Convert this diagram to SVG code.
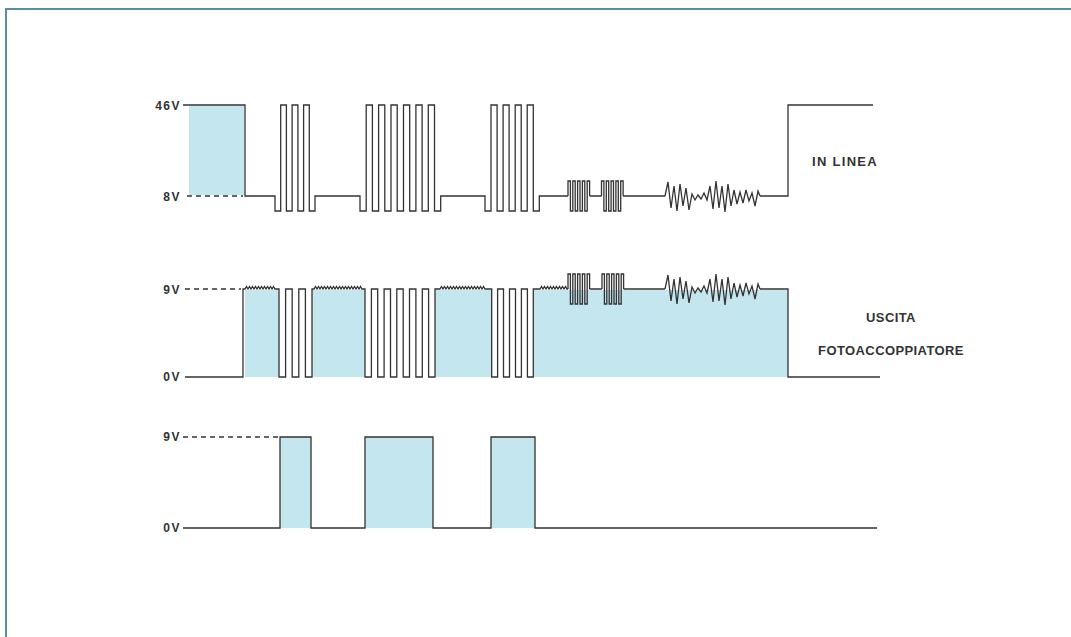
<svg xmlns="http://www.w3.org/2000/svg" xmlns:xlink="http://www.w3.org/1999/xlink" width="1071" height="637" viewBox="0 0 1071 637">
<style>
.w{fill:none;stroke:#333;stroke-width:1.3;stroke-linejoin:miter}
.d{fill:none;stroke:#333;stroke-width:1.3;stroke-dasharray:5 4}
.f{fill:#c4e6ef;stroke:none}
.lbl{font-family:"Liberation Sans",Arial,sans-serif;font-weight:bold;font-size:12px;fill:#333;letter-spacing:1.5px}
.ax{text-anchor:end}
.rt{text-anchor:middle;font-size:13px;letter-spacing:0.4px}
.rt2{text-anchor:middle;font-size:13px;letter-spacing:1.3px}
</style>
<defs>
<path id="burst" d="M0,0 V-15 H2.4 V15 H4.8 V-15 H7.2 V15 H9.6 V-15 H12 V15 H14.4 V-15 H16.8 V15 H19.2 V-15 H21.6 V0"/>
<path id="noise" d="M0,0 L3,-14 L6,12 L9,-10 L12,15 L15,-12 L18,10 L21,-8 L24,14 L27,-2 L30,4 L33,-1 L36,3 L39,-3 L42,4 L45,-10 L48,13 L51,-15 L54,12 L57,-10 L60,16 L63,-12 L66,10 L69,-6 L72,8 L75,-4 L78,7 L81,-6 L84,5 L87,-3 L90,10 L93,-5 L95,0"/>
</defs>
<rect width="1071" height="637" fill="#fff"/>
<path d="M6,637 V9 H1071" fill="none" stroke="#5d8c9c" stroke-width="2"/>

<g id="trace-in-linea">
<rect class="f" x="189" y="106" width="55" height="89"/>
<line class="d" x1="187" y1="196" x2="243" y2="196"/>
<path class="w" d="M183,105 H245 V196 H275 V211 H280.7 V105 H286.4 V211 H292.1 V105 H297.9 V211 H303.6 V105 H309.3 V211 H315 V196 H360 V211 H366.2 V105 H372.4 V211 H378.6 V105 H384.8 V211 H391 V105 H397.2 V211 H403.5 V105 H409.7 V211 H415.9 V105 H422.1 V211 H428.3 V105 H434.5 V211 H440.7 V196 H485 V211 H491 V105 H497.1 V211 H503.1 V105 H509.1 V211 H515.2 V105 H521.2 V211 H527.2 V105 H533.3 V211 H539.3 V196 H568 M589.6,196 H601.5 M623.1,196 H665 M760,196 H788 V105 H873"/>
<use class="w" xlink:href="#burst" href="#burst" transform="translate(568,196)"/>
<use class="w" xlink:href="#burst" href="#burst" transform="translate(601.5,196)"/>
<use class="w" xlink:href="#noise" href="#noise" transform="translate(665,196)"/>
<text class="lbl ax" x="181" y="109.5">46V</text>
<text class="lbl ax" x="181" y="200.5">8V</text>
<text class="lbl rt2" x="845" y="166">IN LINEA</text>
</g>

<g id="trace-uscita">
<rect class="f" x="245" y="290" width="34" height="87"/>
<rect class="f" x="312" y="290" width="53" height="87"/>
<rect class="f" x="435" y="290" width="56.7" height="87"/>
<rect class="f" x="533.3" y="290" width="254.7" height="87"/>
<line class="d" x1="185" y1="289" x2="241" y2="289"/>
<path class="w" d="M185,377 H243 V289 H245 l1.5,-2.5 l1.5,2.5 l1.5,-2.5 l1.5,2.5 l1.5,-2.5 l1.5,2.5 l1.5,-2.5 l1.5,2.5 l1.5,-2.5 l1.5,2.5 l1.5,-2.5 l1.5,2.5 l1.5,-2.5 l1.5,2.5 l1.5,-2.5 l1.5,2.5 l1.5,-2.5 l1.5,2.5 l1.5,-2.5 l1.5,2.5 H279 V377 H285.6 V289 H292.2 V377 H298.8 V289 H305.4 V377 H312 V289 H314 l1.5,-2.5 l1.5,2.5 l1.5,-2.5 l1.5,2.5 l1.5,-2.5 l1.5,2.5 l1.5,-2.5 l1.5,2.5 l1.5,-2.5 l1.5,2.5 l1.5,-2.5 l1.5,2.5 l1.5,-2.5 l1.5,2.5 l1.5,-2.5 l1.5,2.5 l1.5,-2.5 l1.5,2.5 l1.5,-2.5 l1.5,2.5 l1.5,-2.5 l1.5,2.5 l1.5,-2.5 l1.5,2.5 l1.5,-2.5 l1.5,2.5 l1.5,-2.5 l1.5,2.5 l1.5,-2.5 l1.5,2.5 l1.5,-2.5 l1.5,2.5 H365 V377 H371.4 V289 H377.7 V377 H384.1 V289 H390.5 V377 H396.8 V289 H403.2 V377 H409.5 V289 H415.9 V377 H422.3 V289 H428.6 V377 H435 V289 H440 l1.5,-2.5 l1.5,2.5 l1.5,-2.5 l1.5,2.5 l1.5,-2.5 l1.5,2.5 l1.5,-2.5 l1.5,2.5 l1.5,-2.5 l1.5,2.5 l1.5,-2.5 l1.5,2.5 l1.5,-2.5 l1.5,2.5 l1.5,-2.5 l1.5,2.5 l1.5,-2.5 l1.5,2.5 l1.5,-2.5 l1.5,2.5 l1.5,-2.5 l1.5,2.5 l1.5,-2.5 l1.5,2.5 l1.5,-2.5 l1.5,2.5 l1.5,-2.5 l1.5,2.5 l1.5,-2.5 l1.5,2.5 H491.7 V377 H497.6 V289 H503.5 V377 H509.5 V289 H515.5 V377 H521.4 V289 H527.4 V377 H533.3 V289 H540 l1.5,-2.5 l1.5,2.5 l1.5,-2.5 l1.5,2.5 l1.5,-2.5 l1.5,2.5 l1.5,-2.5 l1.5,2.5 l1.5,-2.5 l1.5,2.5 l1.5,-2.5 l1.5,2.5 l1.5,-2.5 l1.5,2.5 l1.5,-2.5 l1.5,2.5 l1.5,-2.5 l1.5,2.5 H568 M589.6,289 H602 M623.6,289 H665 M760,289 H788 V377 H880"/>
<use class="w" xlink:href="#burst" href="#burst" transform="translate(568,289)"/>
<use class="w" xlink:href="#burst" href="#burst" transform="translate(602,289)"/>
<use class="w" xlink:href="#noise" href="#noise" transform="translate(665,289)"/>
<text class="lbl ax" x="181" y="293.5">9V</text>
<text class="lbl ax" x="181" y="381">0V</text>
<text class="lbl rt" x="891" y="322">USCITA</text>
<text class="lbl rt" x="891" y="355">FOTOACCOPPIATORE</text>
</g>

<g id="trace-bottom">
<rect class="f" x="280" y="437" width="31" height="91"/>
<rect class="f" x="365" y="437" width="68" height="91"/>
<rect class="f" x="491" y="437" width="44" height="91"/>
<line class="d" x1="183" y1="437" x2="278" y2="437"/>
<path class="w" d="M183,528 H280 V437 H311 V528 H365 V437 H433 V528 H491 V437 H535 V528 H877"/>
<text class="lbl ax" x="181" y="441">9V</text>
<text class="lbl ax" x="181" y="532">0V</text>
</g>
</svg>
